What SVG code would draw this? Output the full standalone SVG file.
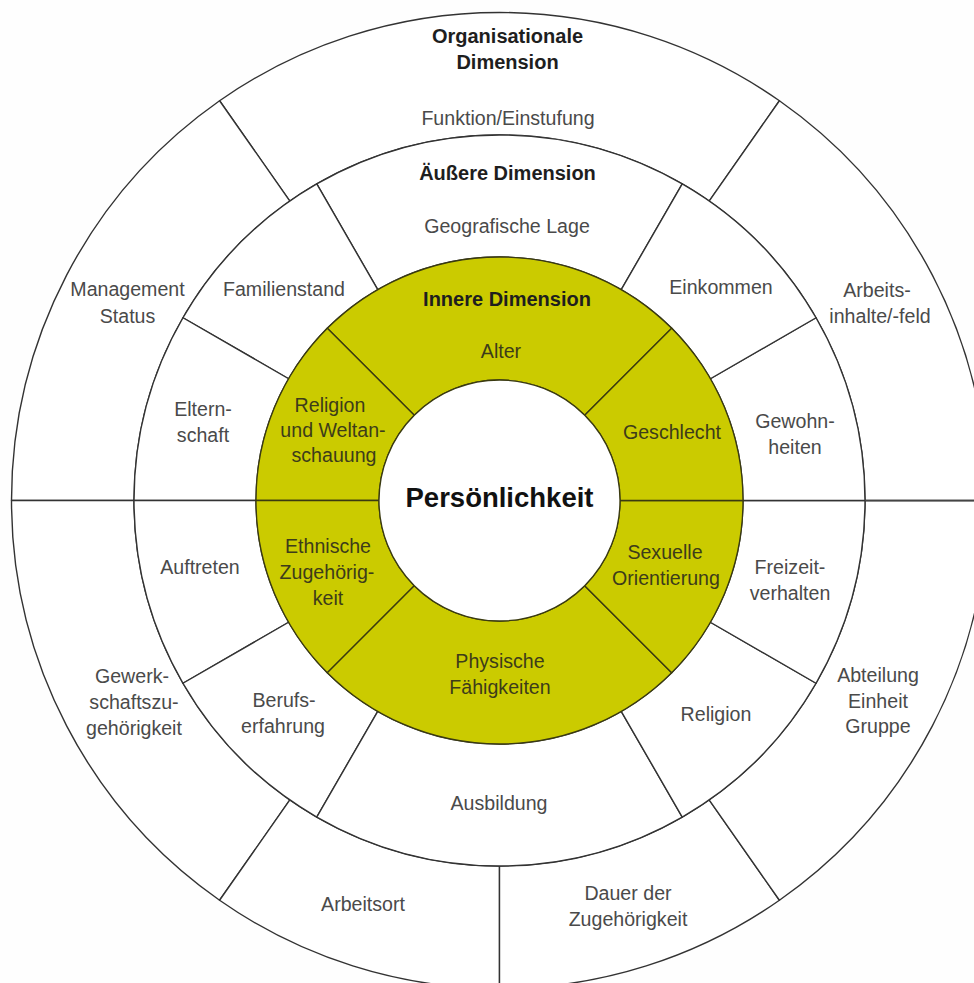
<svg xmlns="http://www.w3.org/2000/svg" width="974" height="983" viewBox="0 0 974 983">
<style>
.sec{fill:#ffffff;stroke:#333333;stroke-width:1.4;stroke-linejoin:round}
.yel{fill:#cbcb00;stroke:#3a3a10;stroke-width:1.3;stroke-linejoin:round}
text{font-family:"Liberation Sans",Arial,sans-serif;text-anchor:middle}
.lab{font-size:19.6px;fill:#4a4a4a}
.ylab{font-size:19.6px;fill:#3d3c1a}
.head{font-size:20px;font-weight:bold;fill:#1e1e1e}
.core{font-size:27.5px;font-weight:bold;fill:#111111}
</style>
<rect x="0" y="0" width="974" height="983" fill="#fefefe"/>

<!-- Outer ring: Organisationale Dimension -->
<g id="org-funktion">
<path class="sec" d="M 779.42 100.73 A 488 488 0 0 0 219.58 100.73 L 289.85 201.08 A 365.5 365.5 0 0 1 709.15 201.08 Z"/>
<text class="head" x="507.5" y="43">Organisationale</text>
<text class="head" x="507.5" y="69">Dimension</text>
<text class="lab" x="508" y="125">Funktion/Einstufung</text>
</g>
<g id="org-management">
<path class="sec" d="M 219.58 100.73 A 488 488 0 0 0 11.5 500.5 L 134 500.5 A 365.5 365.5 0 0 1 289.85 201.08 Z"/>
<text class="lab" x="127.5" y="296">Management</text>
<text class="lab" x="127.5" y="322.5">Status</text>
</g>
<g id="org-gewerkschaft">
<path class="sec" d="M 11.5 500.5 A 488 488 0 0 0 219.58 900.27 L 289.85 799.92 A 365.5 365.5 0 0 1 134 500.5 Z"/>
<text class="lab" x="132" y="683">Gewerk-</text>
<text class="lab" x="134" y="709">schaftszu-</text>
<text class="lab" x="134" y="735">gehörigkeit</text>
</g>
<g id="org-arbeitsort">
<path class="sec" d="M 219.58 900.27 A 488 488 0 0 0 499.5 988.5 L 499.5 866 A 365.5 365.5 0 0 1 289.85 799.92 Z"/>
<text class="lab" x="363" y="911">Arbeitsort</text>
</g>
<g id="org-dauer">
<path class="sec" d="M 499.5 988.5 A 488 488 0 0 0 779.42 900.27 L 709.15 799.92 A 365.5 365.5 0 0 1 499.5 866 Z"/>
<text class="lab" x="628" y="900">Dauer der</text>
<text class="lab" x="628" y="926">Zugehörigkeit</text>
</g>
<g id="org-abteilung">
<path class="sec" d="M 779.42 900.27 A 488 488 0 0 0 987.5 500.5 L 865 500.5 A 365.5 365.5 0 0 1 709.15 799.92 Z"/>
<text class="lab" x="878" y="682">Abteilung</text>
<text class="lab" x="878" y="708">Einheit</text>
<text class="lab" x="878" y="733">Gruppe</text>
</g>
<g id="org-arbeitsinhalte">
<path class="sec" d="M 987.5 500.5 A 488 488 0 0 0 779.42 100.73 L 709.15 201.08 A 365.5 365.5 0 0 1 865 500.5 Z"/>
<text class="lab" x="877" y="296.5">Arbeits-</text>
<text class="lab" x="880" y="322.5">inhalte/-feld</text>
</g>

<!-- Middle ring: Äußere Dimension -->
<g id="aus-geografie">
<path class="sec" d="M 682.25 183.97 A 365.5 365.5 0 0 0 316.75 183.97 L 377.75 289.63 A 243.5 243.5 0 0 1 621.25 289.63 Z"/>
<text class="head" x="507.5" y="180">Äußere Dimension</text>
<text class="lab" x="507" y="233">Geografische Lage</text>
</g>
<g id="aus-familienstand">
<path class="sec" d="M 316.75 183.97 A 365.5 365.5 0 0 0 182.97 317.75 L 288.63 378.75 A 243.5 243.5 0 0 1 377.75 289.63 Z"/>
<text class="lab" x="284" y="296">Familienstand</text>
</g>
<g id="aus-elternschaft">
<path class="sec" d="M 182.97 317.75 A 365.5 365.5 0 0 0 134 500.5 L 256 500.5 A 243.5 243.5 0 0 1 288.63 378.75 Z"/>
<text class="lab" x="203" y="415.5">Eltern-</text>
<text class="lab" x="203" y="442">schaft</text>
</g>
<g id="aus-auftreten">
<path class="sec" d="M 134 500.5 A 365.5 365.5 0 0 0 182.97 683.25 L 288.63 622.25 A 243.5 243.5 0 0 1 256 500.5 Z"/>
<text class="lab" x="200" y="574">Auftreten</text>
</g>
<g id="aus-berufserfahrung">
<path class="sec" d="M 182.97 683.25 A 365.5 365.5 0 0 0 316.75 817.03 L 377.75 711.37 A 243.5 243.5 0 0 1 288.63 622.25 Z"/>
<text class="lab" x="284" y="707">Berufs-</text>
<text class="lab" x="283" y="733">erfahrung</text>
</g>
<g id="aus-ausbildung">
<path class="sec" d="M 316.75 817.03 A 365.5 365.5 0 0 0 682.25 817.03 L 621.25 711.37 A 243.5 243.5 0 0 1 377.75 711.37 Z"/>
<text class="lab" x="499" y="810">Ausbildung</text>
</g>
<g id="aus-religion">
<path class="sec" d="M 682.25 817.03 A 365.5 365.5 0 0 0 816.03 683.25 L 710.37 622.25 A 243.5 243.5 0 0 1 621.25 711.37 Z"/>
<text class="lab" x="716" y="721">Religion</text>
</g>
<g id="aus-freizeit">
<path class="sec" d="M 816.03 683.25 A 365.5 365.5 0 0 0 865 500.5 L 743 500.5 A 243.5 243.5 0 0 1 710.37 622.25 Z"/>
<text class="lab" x="790" y="574">Freizeit-</text>
<text class="lab" x="790" y="599.5">verhalten</text>
</g>
<g id="aus-gewohnheiten">
<path class="sec" d="M 865 500.5 A 365.5 365.5 0 0 0 816.03 317.75 L 710.37 378.75 A 243.5 243.5 0 0 1 743 500.5 Z"/>
<text class="lab" x="795" y="428">Gewohn-</text>
<text class="lab" x="795" y="454">heiten</text>
</g>
<g id="aus-einkommen">
<path class="sec" d="M 816.03 317.75 A 365.5 365.5 0 0 0 682.25 183.97 L 621.25 289.63 A 243.5 243.5 0 0 1 710.37 378.75 Z"/>
<text class="lab" x="721" y="294">Einkommen</text>
</g>

<!-- Inner ring: Innere Dimension -->
<g id="inn-alter">
<path class="yel" d="M 671.68 328.32 A 243.5 243.5 0 0 0 327.32 328.32 L 414.29 415.29 A 120.5 120.5 0 0 1 584.71 415.29 Z"/>
<text class="head" x="507" y="306">Innere Dimension</text>
<text class="ylab" x="501" y="358">Alter</text>
</g>
<g id="inn-religion">
<path class="yel" d="M 327.32 328.32 A 243.5 243.5 0 0 0 256 500.5 L 379 500.5 A 120.5 120.5 0 0 1 414.29 415.29 Z"/>
<text class="ylab" x="330" y="411.5">Religion</text>
<text class="ylab" x="333" y="437">und Weltan-</text>
<text class="ylab" x="334" y="462">schauung</text>
</g>
<g id="inn-ethnie">
<path class="yel" d="M 256 500.5 A 243.5 243.5 0 0 0 327.32 672.68 L 414.29 585.71 A 120.5 120.5 0 0 1 379 500.5 Z"/>
<text class="ylab" x="328" y="553">Ethnische</text>
<text class="ylab" x="327" y="579">Zugehörig-</text>
<text class="ylab" x="328" y="605">keit</text>
</g>
<g id="inn-physisch">
<path class="yel" d="M 327.32 672.68 A 243.5 243.5 0 0 0 671.68 672.68 L 584.71 585.71 A 120.5 120.5 0 0 1 414.29 585.71 Z"/>
<text class="ylab" x="500" y="668">Physische</text>
<text class="ylab" x="500" y="694">Fähigkeiten</text>
</g>
<g id="inn-sexuell">
<path class="yel" d="M 671.68 672.68 A 243.5 243.5 0 0 0 743 500.5 L 620 500.5 A 120.5 120.5 0 0 1 584.71 585.71 Z"/>
<text class="ylab" x="665" y="559">Sexuelle</text>
<text class="ylab" x="666" y="585">Orientierung</text>
</g>
<g id="inn-geschlecht">
<path class="yel" d="M 743 500.5 A 243.5 243.5 0 0 0 671.68 328.32 L 584.71 415.29 A 120.5 120.5 0 0 1 620 500.5 Z"/>
<text class="ylab" x="672" y="439">Geschlecht</text>
</g>

<!-- Core -->
<g id="core">
<circle cx="499.5" cy="500.5" r="120.5" fill="#ffffff" stroke="#3a3a10" stroke-width="1.3"/>
<text class="core" x="499.5" y="507">Persönlichkeit</text>
</g>

<g id="connectors">
<line x1="865" y1="500.5" x2="974" y2="500.5" stroke="#444444" stroke-width="1.6"/>
</g>
</svg>
